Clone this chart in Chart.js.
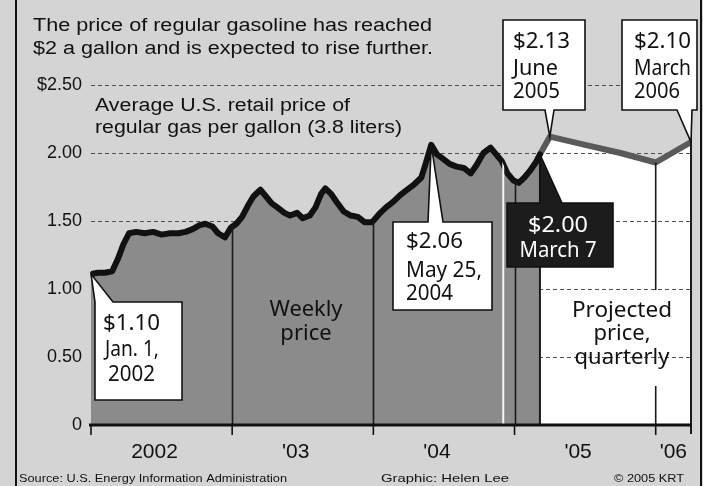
<!DOCTYPE html>
<html>
<head>
<meta charset="utf-8">
<script src="https://cdn.jsdelivr.net/npm/chart.js@4.4.1/dist/chart.umd.min.js"></script>
<style>
  html, body { margin: 0; padding: 0; background: #d6d6d6; }
  canvas { display: block; }
</style>
</head>
<body>
<canvas id="gas" width="703" height="486"></canvas>
<script>
// weekly average retail price, regular gas ($/gal), time as decimal year
const weekT = [2002.00, 2002.05, 2002.10, 2002.15, 2002.19, 2002.23, 2002.27, 2002.32, 2002.38, 2002.44, 2002.50,
  2002.56, 2002.62, 2002.67, 2002.72, 2002.77, 2002.81, 2002.86, 2002.90, 2002.95, 2002.99,
  2003.03, 2003.07, 2003.11, 2003.15, 2003.20, 2003.24, 2003.28, 2003.32, 2003.37, 2003.41, 2003.46,
  2003.50, 2003.55, 2003.59, 2003.63, 2003.66, 2003.70, 2003.74, 2003.79, 2003.84, 2003.89, 2003.94, 2003.99,
  2004.04, 2004.09, 2004.14, 2004.19, 2004.24, 2004.29, 2004.34, 2004.37, 2004.41, 2004.45, 2004.49,
  2004.54, 2004.59, 2004.64, 2004.69, 2004.73, 2004.78, 2004.83, 2004.87, 2004.91, 2004.95, 2004.99,
  2005.03, 2005.07, 2005.11, 2005.15, 2005.18]
const weekP = [1.11, 1.12, 1.12, 1.13, 1.22, 1.33, 1.41, 1.42, 1.41, 1.42, 1.40,
  1.41, 1.41, 1.42, 1.44, 1.47, 1.48, 1.46, 1.41, 1.38, 1.45,
  1.48, 1.53, 1.61, 1.68, 1.73, 1.68, 1.63, 1.60, 1.56, 1.54, 1.56,
  1.52, 1.54, 1.60, 1.70, 1.74, 1.70, 1.64, 1.57, 1.54, 1.53, 1.49, 1.49,
  1.55, 1.60, 1.64, 1.69, 1.73, 1.77, 1.82, 1.92, 2.06, 1.99, 1.96,
  1.92, 1.90, 1.89, 1.85, 1.91, 2.00, 2.04, 1.99, 1.94, 1.85, 1.80,
  1.78, 1.82, 1.87, 1.93, 1.99]

// projected quarterly price
const projT = [2005.18, 2005.25, 2005.50, 2005.75, 2006.00, 2006.25]
const projP = [1.99, 2.12, 2.06, 2.00, 1.93, 2.08]

const yTickLabels = ['0', '0.50', '1.00', '1.50', '2.00', '$2.50']
const yearStarts = [2002, 2003, 2004, 2005, 2006]
const yearLabels = ['2002', "'03", "'04", "'05", "'06"]

const SANS = 'Liberation Sans'
const CALL = 'Noto Sans'

function fitText(ctx, s, x, y, size, family, width, align, color) {
  ctx.save()
  ctx.font = size + 'px "' + family + '"'
  ctx.fillStyle = color || '#111'
  ctx.textBaseline = 'alphabetic'
  const m = ctx.measureText(s).width
  const k = width ? width / m : 1
  let x0 = x
  if (align === 'center') x0 = x - m * k / 2
  if (align === 'right') x0 = x - m * k
  ctx.translate(x0, y)
  ctx.scale(k, 1)
  ctx.fillText(s, 0, 0)
  ctx.restore()
}

// box with a pointer tail to an anchor point
function callout(ctx, box, tail, anchor, dark) {
  const [x0, y0, x1, y1] = box
  const [ta, tb, side] = tail
  ctx.save()
  ctx.beginPath()
  if (side === 'top') {
    ctx.moveTo(x0, y0); ctx.lineTo(ta, y0); ctx.lineTo(anchor.x, anchor.y); ctx.lineTo(tb, y0)
    ctx.lineTo(x1, y0); ctx.lineTo(x1, y1); ctx.lineTo(x0, y1)
  } else {
    ctx.moveTo(x0, y0); ctx.lineTo(x1, y0); ctx.lineTo(x1, y1); ctx.lineTo(tb, y1)
    ctx.lineTo(anchor.x, anchor.y); ctx.lineTo(ta, y1); ctx.lineTo(x0, y1)
  }
  ctx.closePath()
  ctx.fillStyle = dark ? '#1c1c1c' : '#fff'
  ctx.fill()
  ctx.lineWidth = 1.6
  ctx.strokeStyle = '#111'
  ctx.stroke()
  ctx.restore()
}

const backdrop = {
  id: 'backdrop',
  beforeDraw(chart) {
    const { ctx, scales: { y } } = chart
    ctx.save()
    ctx.fillStyle = '#d4d4d4'
    ctx.fillRect(0, 0, chart.width, chart.height)
    // white area under the projection
    const pts = chart.getDatasetMeta(1).data
    const base = y.getPixelForValue(0)
    ctx.fillStyle = '#fff'
    ctx.beginPath()
    ctx.moveTo(pts[0].x, base)
    pts.forEach(p => ctx.lineTo(p.x, p.y))
    ctx.lineTo(pts[pts.length - 1].x, base)
    ctx.closePath()
    ctx.fill()
    ctx.restore()
  }
}

const overlay = {
  id: 'overlay',
  afterDatasetsDraw(chart) {
    const { ctx, chartArea: a, scales: { x, y } } = chart
    const base = y.getPixelForValue(0)
    const wk = chart.getDatasetMeta(0).data
    const pj = chart.getDatasetMeta(1).data
    const last = wk[wk.length - 1]

    // year dividers inside the weekly area
    ctx.save()
    ctx.beginPath()
    ctx.moveTo(wk[0].x, base)
    wk.forEach(p => ctx.lineTo(p.x, p.y))
    ctx.lineTo(last.x, base)
    ctx.closePath()
    ctx.clip()
    ctx.strokeStyle = '#1a1a1a'
    ctx.lineWidth = 1.6
    yearStarts.slice(1, 4).forEach(t => {
      const px = Math.round(x.getPixelForValue(t)) + 0.5
      ctx.beginPath(); ctx.moveTo(px, a.top); ctx.lineTo(px, base); ctx.stroke()
    })
    ctx.strokeStyle = '#f4f4f4'
    ctx.lineWidth = 2
    const wx = x.getPixelForValue(2004.92)
    ctx.beginPath(); ctx.moveTo(wx, a.top); ctx.lineTo(wx, base); ctx.stroke()
    ctx.restore()

    ctx.save()
    ctx.strokeStyle = '#1a1a1a'
    ctx.lineWidth = 2
    // end of weekly series
    ctx.beginPath(); ctx.moveTo(last.x, last.y + 3); ctx.lineTo(last.x, base); ctx.stroke()
    // '06 divider, broken around the label
    const p06 = pj[4]
    ctx.lineWidth = 1.6
    ctx.beginPath()
    ctx.moveTo(p06.x, p06.y); ctx.lineTo(p06.x, 290)
    ctx.moveTo(p06.x, 386); ctx.lineTo(p06.x, base)
    ctx.stroke()
    // right border of the plot
    ctx.lineWidth = 2
    ctx.beginPath(); ctx.moveTo(a.right, a.top); ctx.lineTo(a.right, base + 9); ctx.stroke()
    // axis and ticks
    ctx.lineWidth = 3
    ctx.strokeStyle = '#111'
    ctx.beginPath(); ctx.moveTo(a.left - 2, base); ctx.lineTo(a.right + 1, base); ctx.stroke()
    ctx.lineWidth = 1.6
    yearStarts.forEach(t => {
      const px = x.getPixelForValue(t)
      ctx.beginPath(); ctx.moveTo(px, base); ctx.lineTo(px, base + 10); ctx.stroke()
    })
    ctx.restore()

    // year labels centred in each year
    yearStarts.forEach((t, i) => {
      const mid = i < yearStarts.length - 1 ? t + 0.45 : (t + x.max) / 2
      fitText(ctx, yearLabels[i], x.getPixelForValue(mid), 458, 21, SANS, 0, 'center')
    })

    // area labels
    fitText(ctx, 'Weekly', 306, 316, 22, CALL, 73, 'center')
    fitText(ctx, 'price', 306, 340, 22, CALL, 0, 'center')
    fitText(ctx, 'Projected', 622, 317, 22, CALL, 100, 'center')
    fitText(ctx, 'price,', 622, 340, 22, CALL, 0, 'center')
    fitText(ctx, 'quarterly', 622, 364, 22, CALL, 0, 'center')

    // callouts
    let maxI = 0
    weekP.forEach((v, i) => { if (v > weekP[maxI]) maxI = i })

    callout(ctx, [95, 302, 182, 400], [95, 113, 'top'], { x: wk[0].x, y: wk[0].y }, false)
    fitText(ctx, '$1.10', 103, 330, 22, CALL, 57)
    fitText(ctx, 'Jan. 1,', 105, 356, 22, CALL, 54)
    fitText(ctx, '2002', 108, 381, 22, CALL, 47)

    callout(ctx, [393, 222, 492, 310], [428, 443, 'top'], { x: wk[maxI].x, y: wk[maxI].y }, false)
    fitText(ctx, '$2.06', 406, 248, 22, CALL, 57)
    fitText(ctx, 'May 25,', 406, 277, 22, CALL, 76)
    fitText(ctx, '2004', 406, 300, 22, CALL, 47)

    callout(ctx, [507, 203, 613, 267], [540, 562, 'top'], { x: last.x, y: last.y }, true)
    fitText(ctx, '$2.00', 558, 232, 22, CALL, 60, 'center', '#fff')
    fitText(ctx, 'March 7', 558, 257, 22, CALL, 77, 'center', '#fff')

    callout(ctx, [503, 20, 585, 110], [545, 554, 'bottom'], { x: pj[1].x, y: pj[1].y }, false)
    fitText(ctx, '$2.13', 513, 48, 22, CALL, 57)
    fitText(ctx, 'June', 513, 75, 22, CALL, 45)
    fitText(ctx, '2005', 513, 98, 22, CALL, 47)

    const pe = pj[pj.length - 1]
    callout(ctx, [622, 20, 697, 110], [677, 692, 'bottom'], { x: pe.x, y: pe.y }, false)
    fitText(ctx, '$2.10', 634, 48, 22, CALL, 57)
    fitText(ctx, 'March', 634, 75, 22, CALL, 57)
    fitText(ctx, '2006', 634, 98, 22, CALL, 46)
  },
  afterDraw(chart) {
    const { ctx } = chart
    fitText(ctx, 'The price of regular gasoline has reached', 33, 31, 18, SANS, 399)
    fitText(ctx, '$2 a gallon and is expected to rise further.', 33, 54, 18, SANS, 400)
    fitText(ctx, 'Average U.S. retail price of', 95, 111, 18, SANS, 255)
    fitText(ctx, 'regular gas per gallon (3.8 liters)', 95, 133, 18, SANS, 307)
    fitText(ctx, 'Source: U.S. Energy Information Administration', 19, 482, 11.5, SANS, 268)
    fitText(ctx, 'Graphic: Helen Lee', 381, 482, 11.5, SANS, 128)
    fitText(ctx, '\u00a9 2005 KRT', 614, 482, 11.5, SANS, 70)
    // page frame
    ctx.save()
    ctx.strokeStyle = '#111'
    ctx.lineWidth = 2
    ctx.beginPath()
    ctx.moveTo(16, 0); ctx.lineTo(16, chart.height)
    ctx.moveTo(701, 0); ctx.lineTo(701, chart.height)
    ctx.stroke()
    ctx.restore()
  }
}

new Chart(document.getElementById('gas'), {
  type: 'line',
  data: {
    datasets: [
      {
        label: 'Weekly price',
        data: weekT.map((t, i) => ({ x: t, y: weekP[i] })),
        borderColor: '#111',
        borderWidth: 6,
        borderJoinStyle: 'round',
        borderCapStyle: 'round',
        backgroundColor: '#8b8b8b',
        fill: 'origin',
        pointRadius: 0,
        tension: 0
      },
      {
        label: 'Projected price, quarterly',
        data: projT.map((t, i) => ({ x: t, y: projP[i] })),
        borderColor: '#5a5a5a',
        borderWidth: 6,
        borderJoinStyle: 'round',
        fill: false,
        pointRadius: 0,
        tension: 0
      }
    ]
  },
  options: {
    responsive: false,
    animation: false,
    events: [],
    layout: { padding: { left: 0, right: 12, top: 85, bottom: 61 } },
    plugins: { legend: { display: false }, tooltip: { enabled: false } },
    scales: {
      x: { type: 'linear', min: 2002, max: 2006.25, display: false },
      y: {
        min: 0,
        max: 2.5,
        afterFit: s => { s.width = 91 },
        ticks: {
          stepSize: 0.5,
          padding: 9,
          color: '#111',
          font: { family: SANS, size: 18 },
          callback: (v, i) => yTickLabels[i]
        },
        grid: {
          drawTicks: false,
          lineWidth: 1,
          color: c => (c.tick && c.tick.value === 0 ? 'rgba(0,0,0,0)' : '#505050')
        },
        border: { display: false, dash: [4, 3] }
      }
    }
  },
  plugins: [backdrop, overlay]
})
</script>
</body>
</html>
